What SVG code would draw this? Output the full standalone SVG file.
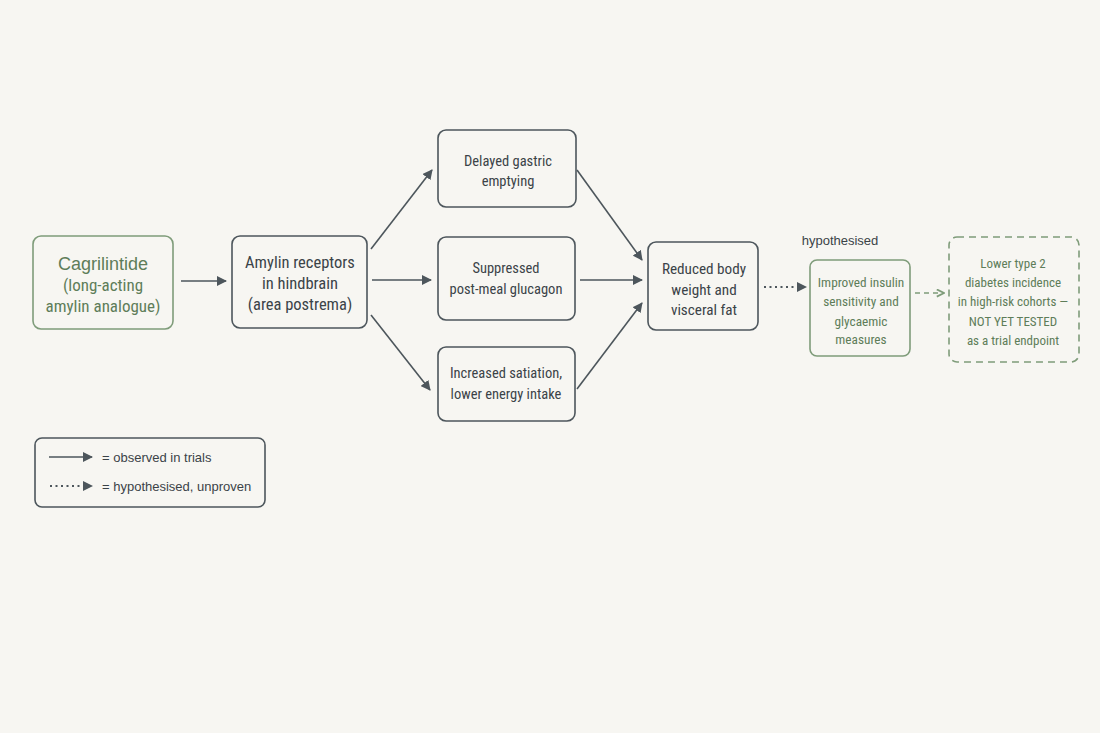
<svg xmlns="http://www.w3.org/2000/svg" width="1100" height="733" viewBox="0 0 1100 733">
<defs>
<style>
.bg{fill:#f7f6f2}
.box{fill:#f7f6f2;stroke:#4d565c;stroke-width:1.6}
.gbox{fill:#f7f6f2;stroke:#7f9c7a;stroke-width:1.6}
.dbox{fill:#f7f6f2;stroke:#7f9c7a;stroke-width:1.6;stroke-dasharray:7 5}
text{font-family:"Liberation Sans Narrow","Roboto Condensed","Liberation Sans",Arial,sans-serif;text-anchor:middle}
.t{fill:#3b4348;font-size:16.5px}
.tm{fill:#3b4348;font-size:14.5px}
.tr{fill:#3b4348;font-size:15.2px}
.g{fill:#5e7d59;font-size:17px}
.gs{fill:#5e7d59;font-size:13.3px}
.gx{fill:#5e7d59;font-size:13px}
.lbl{fill:#3b4348;font-size:13px;font-family:"Liberation Sans",Arial,sans-serif}
.leg{fill:#3b4348;font-size:13px;text-anchor:start;font-family:"Liberation Sans",Arial,sans-serif}
.c{stroke:#4d565c;stroke-width:1.6;fill:none}
.dot{stroke:#4d565c;stroke-width:1.8;fill:none;stroke-dasharray:2 3.5}
.dash{stroke:#7f9c7a;stroke-width:1.6;fill:none;stroke-dasharray:5 4}
</style>
<marker id="ah" viewBox="0 0 10 10" refX="9" refY="5" markerWidth="10" markerHeight="10" markerUnits="userSpaceOnUse" orient="auto">
<path d="M0,0 L10,5 L0,10 z" fill="#4d565c"/>
</marker>
<marker id="ag" viewBox="0 0 10 10" refX="9" refY="5" markerWidth="9" markerHeight="9" markerUnits="userSpaceOnUse" orient="auto">
<path d="M1,1 L9,5 L1,9" fill="none" stroke="#7f9c7a" stroke-width="2"/>
</marker>
</defs>
<rect class="bg" x="0" y="0" width="1100" height="733"/>

<g id="connectors">
<line class="c" x1="181" y1="281" x2="226" y2="281" marker-end="url(#ah)"/>
<line class="c" x1="371" y1="249" x2="432" y2="170" marker-end="url(#ah)"/>
<line class="c" x1="372" y1="280" x2="431" y2="280" marker-end="url(#ah)"/>
<line class="c" x1="371" y1="315" x2="430" y2="390" marker-end="url(#ah)"/>
<line class="c" x1="577" y1="170" x2="642" y2="260" marker-end="url(#ah)"/>
<line class="c" x1="580" y1="280" x2="642" y2="280" marker-end="url(#ah)"/>
<line class="c" x1="577" y1="389" x2="642" y2="303" marker-end="url(#ah)"/>
<line class="dot" x1="764" y1="287" x2="806" y2="287" marker-end="url(#ah)"/>
<line class="dash" x1="915" y1="293" x2="944" y2="293" marker-end="url(#ag)"/>
</g>

<g id="cagrilintide">
<rect class="gbox" x="33" y="236" width="140" height="93" rx="8"/>
<text class="g" x="103" y="270" style="font-family:'Liberation Sans',Arial,sans-serif;font-size:18px">Cagrilintide</text>
<text class="g" x="103" y="291">(long-acting</text>
<text class="g" x="103" y="312">amylin analogue)</text>
</g>

<g id="amylin-receptors">
<rect class="box" x="232" y="236" width="135" height="92" rx="8"/>
<text class="t" x="300" y="268">Amylin receptors</text>
<text class="t" x="300" y="289">in hindbrain</text>
<text class="t" x="300" y="310">(area postrema)</text>
</g>

<g id="gastric">
<rect class="box" x="438" y="130" width="138" height="77" rx="8"/>
<text class="tm" x="508" y="166">Delayed gastric</text>
<text class="tm" x="508" y="186">emptying</text>
</g>

<g id="glucagon">
<rect class="box" x="438" y="237" width="137" height="83" rx="8"/>
<text class="tm" x="506" y="273">Suppressed</text>
<text class="tm" x="506" y="294">post-meal glucagon</text>
</g>

<g id="satiation">
<rect class="box" x="438" y="347" width="137" height="74" rx="8"/>
<text class="tm" x="506" y="378">Increased satiation,</text>
<text class="tm" x="506" y="399">lower energy intake</text>
</g>

<g id="weight">
<rect class="box" x="648" y="242" width="110" height="88" rx="8"/>
<text class="tr" x="704" y="274">Reduced body</text>
<text class="tr" x="704" y="295">weight and</text>
<text class="tr" x="704" y="315">visceral fat</text>
</g>

<g id="insulin">
<text class="lbl" x="840" y="245">hypothesised</text>
<rect class="gbox" x="810" y="260" width="100" height="96" rx="7"/>
<text class="gs" x="861" y="287">Improved insulin</text>
<text class="gs" x="861" y="306">sensitivity and</text>
<text class="gs" x="861" y="326">glycaemic</text>
<text class="gs" x="861" y="344">measures</text>
</g>

<g id="diabetes">
<rect class="dbox" x="949" y="237" width="130" height="125" rx="8"/>
<text class="gx" x="1013" y="268">Lower type 2</text>
<text class="gx" x="1013" y="287">diabetes incidence</text>
<text class="gx" x="1013" y="306">in high-risk cohorts —</text>
<text class="gx" x="1013" y="326">NOT YET TESTED</text>
<text class="gx" x="1013" y="345">as a trial endpoint</text>
</g>

<g id="legend">
<rect class="box" x="35" y="438" width="230" height="69" rx="7"/>
<line class="c" x1="49" y1="457" x2="92" y2="457" marker-end="url(#ah)"/>
<text class="leg" x="102" y="462">= observed in trials</text>
<line class="dot" x1="50" y1="486" x2="92" y2="486" marker-end="url(#ah)"/>
<text class="leg" x="102" y="491">= hypothesised, unproven</text>
</g>
</svg>
